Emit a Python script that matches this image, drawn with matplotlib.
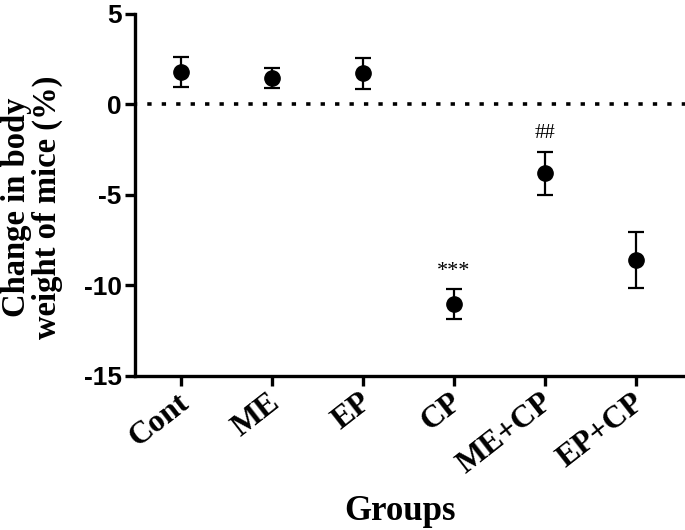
import matplotlib.pyplot as plt
import matplotlib.transforms as mtransforms
import numpy as np

plt.rcParams['axes.unicode_minus'] = False

# data
groups = ["Cont", "ME", "EP", "CP", "ME+CP", "EP+CP"]
means = [1.8, 1.45, 1.72, -11.02, -3.8, -8.6]
errs = [0.84, 0.55, 0.85, 0.83, 1.2, 1.56]
marks = ["", "", "", "***", "##", ""]

serif = "Liberation Serif"
sans = "Liberation Sans"

fig = plt.figure(figsize=(6.85, 5.3), dpi=100)
ax = fig.add_axes([0.197, 0.2906, 0.803, 0.683])

x = np.arange(len(groups))
ax.errorbar(x, means, yerr=errs, fmt="o", color="black", markersize=11,
            elinewidth=1.6, capsize=5.5, capthick=1.6, zorder=3)

# significance marks above the upper error bar
for xi, m, e, s in zip(x, means, errs, marks):
    if s:
        ax.text(xi, m + e + 0.45, s, ha="center", va="bottom",
                fontsize=15 if s == "##" else 16, family=serif)

ax.axhline(0, color="black", linestyle=(0.6, (1.2, 2.8)), linewidth=2.6, zorder=1)

ax.set_xlim(-0.505, 5.54)
ax.set_ylim(-15, 5)
ax.set_yticks([5, 0, -5, -10, -15])
ax.set_xticks(x)

for s in ["top", "right"]:
    ax.spines[s].set_visible(False)
for s in ["left", "bottom"]:
    ax.spines[s].set_linewidth(2.4)
ax.tick_params(direction="out", length=7.5, width=2.4)
ax.tick_params(axis="y", pad=2)
ax.tick_params(axis="x", pad=1)

ax.set_xticklabels(groups, rotation=38, ha="right", rotation_mode="anchor",
                   family=serif, fontweight="bold", fontsize=23)
shift = mtransforms.ScaledTranslation(-3 / 72, 0, fig.dpi_scale_trans)
for lab in ax.get_xticklabels():
    lab.set_transform(lab.get_transform() + shift)
for lab in ax.get_yticklabels():
    lab.set_family(sans)
    lab.set_fontweight("bold")
    lab.set_fontsize(19)

fig.text(32 / 685, 1 - 207 / 530, "Change in body\nweight of mice (%)",
         rotation=90, ha="center", va="center", multialignment="center",
         family=serif, fontweight="bold", fontsize=23.5, linespacing=0.95)
fig.text(400 / 685, 1 - 512 / 530, "Groups", ha="center", va="center",
         family=serif, fontweight="bold", fontsize=25)

fig.savefig("out.png", dpi=100)
